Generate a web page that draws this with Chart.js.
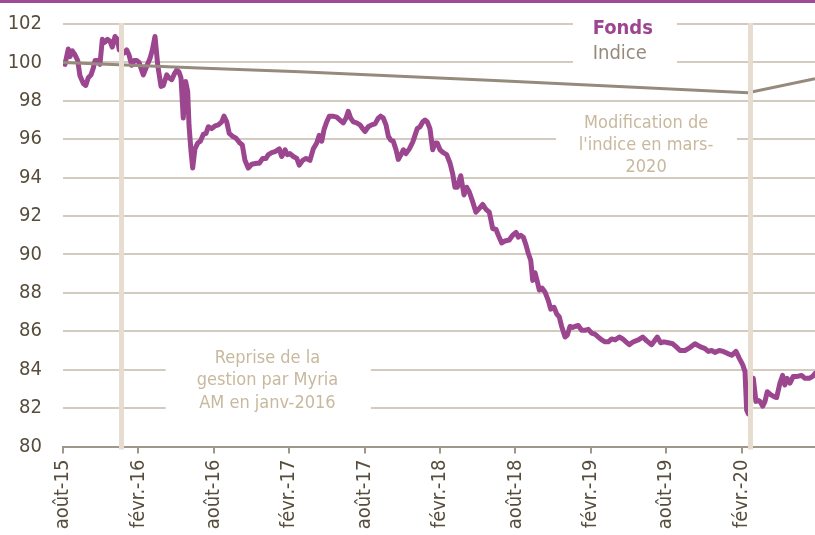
<!DOCTYPE html>
<html lang="fr">
<head>
<meta charset="utf-8">
<title>Fonds vs Indice</title>
<script src="https://cdn.jsdelivr.net/npm/chart.js@4.4.1/dist/chart.umd.min.js"></script>
<style>
  html, body { margin: 0; padding: 0; background: #fff; }
  #wrap { width: 815px; height: 535px; }
</style>
</head>
<body>
<div id="wrap"><canvas id="perf-chart" width="815" height="535"></canvas></div>
<script>
// x values are months counted from août-15
const xTickMonths = [0, 6, 12, 18, 24, 30, 36, 42, 48, 54];
const xTickLabels = ['août-15', 'févr.-16', 'août-16', 'févr.-17', 'août-17',
  'févr.-18', 'août-18', 'févr.-19', 'août-19', 'févr.-20'];
const xMax = 59.84;

const fondsMonths = [
  0.00, 0.16, 0.42, 0.56, 0.74, 0.95, 1.17, 1.35, 1.62, 1.81, 2.01, 2.23, 2.41, 2.55, 2.76, 2.94,
  3.13, 3.34, 3.53, 3.74, 3.92, 4.14, 4.32, 4.48, 4.88, 5.07, 5.25, 5.47, 5.67, 5.86, 6.05, 6.26,
  6.39, 6.66, 6.92, 7.11, 7.32, 7.54, 7.80, 7.98, 8.25, 8.43, 8.65, 8.86, 9.05, 9.23, 9.39, 9.57,
  9.76, 9.92, 10.03, 10.19, 10.32, 10.50, 10.72, 10.93, 11.16, 11.38, 11.56, 11.83, 12.10, 12.36,
  12.63, 12.81, 13.03, 13.23, 13.50, 13.77, 14.08, 14.27, 14.48, 14.74, 15.02, 15.41, 15.62, 15.89,
  16.15, 16.34, 16.61, 16.87, 17.21, 17.40, 17.67, 17.85, 18.06, 18.33, 18.60, 18.80, 19.07, 19.34,
  19.65, 19.92, 20.19, 20.39, 20.59, 20.77, 20.98, 21.19, 21.46, 21.78, 22.04, 22.30, 22.52, 22.70,
  22.89, 23.10, 23.37, 23.63, 23.85, 24.03, 24.29, 24.56, 24.83, 25.09, 25.28, 25.49, 25.70, 25.89,
  26.08, 26.28, 26.50, 26.68, 26.90, 27.08, 27.29, 27.56, 27.83, 28.01, 28.19, 28.41, 28.62, 28.81,
  28.99, 29.20, 29.42, 29.60, 29.78, 30.00, 30.26, 30.53, 30.80, 31.01, 31.19, 31.38, 31.65, 31.91,
  32.12, 32.33, 32.60, 32.86, 33.13, 33.40, 33.66, 33.92, 34.02, 34.19, 34.46, 34.64, 34.91, 35.17,
  35.51, 35.78, 36.05, 36.23, 36.42, 36.63, 36.84, 37.03, 37.22, 37.38, 37.56, 37.74, 37.90, 38.12,
  38.35, 38.62, 38.81, 39.07, 39.29, 39.49, 39.68, 39.95, 40.13, 40.34, 40.56, 40.74, 41.00, 41.27,
  41.54, 41.80, 42.07, 42.33, 42.60, 42.87, 43.13, 43.39, 43.66, 43.93, 44.27, 44.54, 44.80, 45.06,
  45.38, 45.78, 46.13, 46.45, 46.84, 47.29, 47.56, 47.82, 48.17, 48.52, 48.78, 49.10, 49.49, 49.89,
  50.29, 50.69, 51.09, 51.35, 51.62, 51.88, 52.22, 52.54, 52.86, 53.21, 53.55, 53.81, 54.09, 54.27,
  54.40, 54.53, 54.93, 55.14, 55.33, 55.46, 55.68, 55.86, 56.04, 56.31, 56.58, 56.79, 57.05, 57.26,
  57.44, 57.62, 57.85, 58.11, 58.43, 58.77, 59.04, 59.38, 59.65, 59.84
];
const fondsValues = [
  99.95, 99.90, 100.70, 100.30, 100.60, 100.40, 100.10, 99.30, 98.90, 98.80, 99.20, 99.35, 99.70, 100.10, 100.10, 99.90,
  101.20, 101.05, 101.20, 101.10, 100.80, 101.35, 101.20, 100.65, 100.50, 100.65, 100.40, 99.85, 100.10, 100.10, 100.00, 99.60,
  99.35, 99.80, 100.20, 100.65, 101.35, 99.85, 98.75, 98.80, 99.35, 99.20, 99.10, 99.40, 99.60, 99.50, 99.20, 97.10,
  99.00, 98.50, 96.70, 95.35, 94.50, 95.50, 95.80, 95.90, 96.25, 96.30, 96.65, 96.55, 96.70, 96.75,
  96.90, 97.20, 96.90, 96.30, 96.15, 96.05, 95.80, 95.70, 94.90, 94.50, 94.70, 94.75, 94.75, 95.00,
  95.00, 95.20, 95.30, 95.35, 95.50, 95.10, 95.45, 95.20, 95.25, 95.10, 95.00, 94.65, 94.90, 95.00,
  94.90, 95.50, 95.80, 96.20, 95.90, 96.50, 96.90, 97.20, 97.20, 97.15, 97.00, 96.85, 97.10, 97.45,
  97.10, 96.90, 96.85, 96.75, 96.55, 96.40, 96.65, 96.75, 96.80, 97.10, 97.20, 97.10, 96.75, 96.15,
  95.95, 95.90, 95.45, 94.95, 95.20, 95.45, 95.25, 95.50, 95.85, 96.20, 96.55, 96.65, 96.90, 97.00,
  96.90, 96.55, 95.45, 95.80, 95.80, 95.45, 95.30, 95.20, 94.75, 94.20, 93.50, 93.50, 94.10, 93.10,
  93.50, 93.25, 92.75, 92.20, 92.40, 92.60, 92.35, 92.20, 91.90, 91.35, 91.30, 91.00, 90.60, 90.70,
  90.75, 91.00, 91.15, 90.90, 91.00, 90.90, 90.50, 90.05, 89.70, 88.65, 89.05, 88.60, 88.15, 88.25,
  88.05, 87.60, 87.15, 87.25, 86.90, 86.75, 86.25, 85.70, 85.80, 86.25, 86.20, 86.25, 86.30, 86.05,
  86.05, 86.10, 85.90, 85.85, 85.70, 85.55, 85.45, 85.45, 85.60, 85.55, 85.70, 85.60, 85.45, 85.30,
  85.45, 85.55, 85.70, 85.50, 85.30, 85.70, 85.40, 85.45, 85.40, 85.35, 85.20, 85.00, 85.00, 85.15,
  85.35, 85.20, 85.10, 84.95, 85.00, 84.90, 85.00, 84.95, 84.85, 84.75, 84.95, 84.60, 84.25, 83.90,
  81.90, 81.70, 83.55, 82.35, 82.40, 82.35, 82.10, 82.35, 82.85, 82.70, 82.60, 82.55, 83.30, 83.70,
  83.20, 83.55, 83.30, 83.65, 83.65, 83.70, 83.55, 83.55, 83.65, 83.80
];

const indiceMonths = [0, 11.3, 18.86, 34.77, 54.51, 59.84];
const indiceValues = [100, 99.7, 99.52, 99.05, 98.42, 99.15];

// janv-2016 (reprise de gestion) and mars-2020 (changement d'indice)
const markerMonths = [4.58, 54.67];

const FONT = "'DejaVu Sans Condensed', 'DejaVu Sans', sans-serif";
const PURPLE = '#9c4690';
const INDICE_COLOR = '#968a7c';
const NOTE_COLOR = '#c8b89e';
const GRID_COLOR = '#d3cbc0';
const AXIS_COLOR = '#a0968a';
const LABEL_COLOR = '#574d3d';

Chart.defaults.font.family = FONT;

function textBlock(ctx, lines, x, y, lineH) {
  lines.forEach((t, i) => ctx.fillText(t, x, y + i * lineH));
}

const decorations = {
  id: 'decorations',
  beforeDraw(chart) {
    const ctx = chart.ctx;
    ctx.save();
    ctx.fillStyle = '#a04a96';
    ctx.fillRect(0, 0, chart.width, 3);
    ctx.restore();
  },
  beforeDatasetsDraw(chart) {
    const { ctx, scales: { x, y } } = chart;
    const box = (m0, m1, v0, v1) => {
      const px0 = x.getPixelForValue(m0), px1 = x.getPixelForValue(m1);
      const py0 = y.getPixelForValue(v0), py1 = y.getPixelForValue(v1);
      ctx.fillRect(px0, py0, px1 - px0, py1 - py0);
    };
    ctx.save();
    ctx.fillStyle = '#ffffff';
    box(40.58, 48.86, 102.6, 99.35);
    box(39.23, 53.63, 97.6, 94.2);
    box(8.17, 24.5, 85.4, 81.4);

    ctx.textBaseline = 'middle';
    ctx.textAlign = 'left';
    ctx.font = 'bold 20px ' + FONT;
    ctx.fillStyle = PURPLE;
    ctx.fillText('Fonds', x.getPixelForValue(42.15), y.getPixelForValue(101.75));
    ctx.font = '20px ' + FONT;
    ctx.fillStyle = INDICE_COLOR;
    ctx.fillText('Indice', x.getPixelForValue(42.15), y.getPixelForValue(100.47));

    ctx.textAlign = 'center';
    ctx.font = '18px ' + FONT;
    ctx.fillStyle = NOTE_COLOR;
    textBlock(ctx, ['Modification de', "l'indice en mars-", '2020'],
      x.getPixelForValue(46.4), y.getPixelForValue(96.84), 22);
    textBlock(ctx, ['Reprise de la', 'gestion par Myria', 'AM en janv-2016'],
      x.getPixelForValue(16.27), y.getPixelForValue(84.6), 22.5);
    ctx.restore();
  },
  afterDatasetsDraw(chart) {
    const { ctx, chartArea, scales: { x } } = chart;
    ctx.save();
    ctx.strokeStyle = '#e6ddd0';
    ctx.lineWidth = 5;
    markerMonths.forEach(m => {
      const px = Math.round(x.getPixelForValue(m)) + 0.5;
      ctx.beginPath();
      ctx.moveTo(px, chartArea.top - 1);
      ctx.lineTo(px, chartArea.bottom + 3);
      ctx.stroke();
    });
    ctx.restore();
  }
};

new Chart(document.getElementById('perf-chart'), {
  type: 'line',
  data: {
    datasets: [
      {
        label: 'Indice',
        data: indiceMonths.map((m, i) => ({ x: m, y: indiceValues[i] })),
        borderColor: INDICE_COLOR,
        borderWidth: 3,
        pointRadius: 0,
        tension: 0,
      },
      {
        label: 'Fonds',
        data: fondsMonths.map((m, i) => ({ x: m, y: fondsValues[i] })),
        borderColor: PURPLE,
        borderWidth: 5,
        borderJoinStyle: 'round',
        borderCapStyle: 'round',
        pointRadius: 0,
        tension: 0,
      },
    ],
  },
  options: {
    responsive: false,
    animation: false,
    layout: { padding: { top: 24, right: 0, left: 0, bottom: 0 } },
    plugins: { legend: { display: false }, tooltip: { enabled: false } },
    scales: {
      x: {
        type: 'linear',
        min: 0,
        max: xMax,
        afterBuildTicks: s => { s.ticks = xTickMonths.map(v => ({ value: v })); },
        afterFit: s => { s.height = 88.5; s.paddingLeft = 0; s.paddingRight = 0; },
        grid: { drawOnChartArea: false, drawTicks: true, tickLength: 7, color: AXIS_COLOR, lineWidth: 2 },
        border: { display: true, color: AXIS_COLOR, width: 2 },
        ticks: {
          autoSkip: false,
          maxRotation: 90,
          minRotation: 90,
          padding: 6,
          color: LABEL_COLOR,
          font: { size: 20 },
          callback: (v, i) => xTickLabels[i],
        },
      },
      y: {
        min: 80,
        max: 102,
        afterFit: s => { s.width = 63; s.paddingTop = 0; s.paddingBottom = 0; },
        grid: {
          drawTicks: false,
          lineWidth: 2,
          color: c => (c.tick && c.tick.value === 80 ? 'rgba(0,0,0,0)' : GRID_COLOR),
        },
        border: { display: false },
        ticks: { stepSize: 2, padding: 21, color: LABEL_COLOR, font: { size: 20 } },
      },
    },
  },
  plugins: [decorations],
});
</script>
</body>
</html>
